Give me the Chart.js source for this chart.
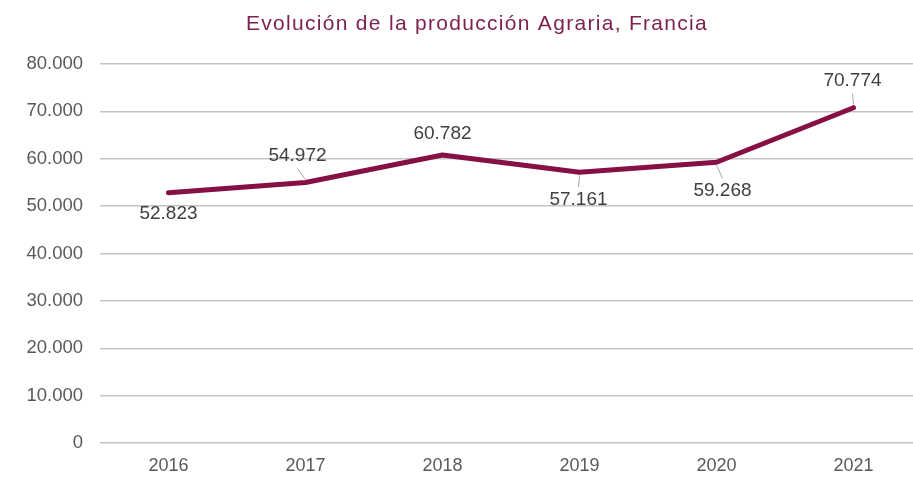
<!DOCTYPE html>
<html>
<head>
<meta charset="utf-8">
<script src="https://cdn.jsdelivr.net/npm/chart.js@4"></script>
<style>
  html, body { margin: 0; padding: 0; background: #ffffff; overflow: hidden; }
  #wrap { width: 922px; height: 480px; position: relative; }
</style>
</head>
<body>
<div id="wrap"><canvas id="c"></canvas></div>
<script>
const TITLE = 'Evolución de la producción Agraria, Francia';
const years = ['2016', '2017', '2018', '2019', '2020', '2021'];
const production = [52823, 54972, 60782, 57161, 59268, 70774];
const yTicks = [0, 10000, 20000, 30000, 40000, 50000, 60000, 70000, 80000];

function fmt(v) {
  return String(Math.round(v)).replace(/\B(?=(\d{3})+(?!\d))/g, '.');
}

// label placement (style): offset of each data label's centre from its point
const labelOffsets = [[0, 21], [-8, -27], [0, -21], [-1, 28], [6, 29], [-1, -27]];

const titlePlugin = {
  id: 'customTitle',
  afterDraw(chart) {
    const ctx = chart.ctx;
    ctx.save();
    ctx.font = '21px "Liberation Sans", Arial, sans-serif';
    try { ctx.letterSpacing = '1.3px'; } catch (e) {}
    ctx.fillStyle = '#7d2251';
    ctx.textAlign = 'center';
    ctx.textBaseline = 'alphabetic';
    ctx.fillText(TITLE, 477, 30);
    ctx.restore();
  }
};

const labelPlugin = {
  id: 'dataLabels',
  afterDatasetsDraw(chart) {
    const ctx = chart.ctx;
    const meta = chart.getDatasetMeta(0);
    ctx.save();
    ctx.font = '19px "Liberation Sans", Arial, sans-serif';
    ctx.fillStyle = '#404040';
    ctx.textAlign = 'center';
    ctx.textBaseline = 'middle';
    meta.data.forEach((pt, i) => {
      const off = labelOffsets[i];
      const lx = pt.x + off[0];
      const ly = pt.y + off[1];
      if (Math.abs(off[1]) > 24) {
        const dir = off[1] < 0 ? -1 : 1; // -1: label above point
        ctx.beginPath();
        ctx.strokeStyle = '#a6a6a6';
        ctx.lineWidth = 1;
        ctx.moveTo(lx, ly - dir * 13);
        ctx.lineTo(pt.x, pt.y + dir * 3);
        ctx.stroke();
      }
      ctx.fillText(fmt(production[i]), lx, ly);
    });
    ctx.restore();
  }
};

new Chart(document.getElementById('c'), {
  type: 'line',
  data: {
    labels: years,
    datasets: [{
      data: production,
      borderColor: '#861043',
      backgroundColor: '#861043',
      borderWidth: 5,
      borderCapStyle: 'round',
      borderJoinStyle: 'round',
      pointRadius: 0,
      tension: 0,
      fill: false
    }]
  },
  options: {
    responsive: true,
    maintainAspectRatio: false,
    animation: false,
    layout: { padding: { top: 64, bottom: 0, left: 0, right: 0 } },
    plugins: {
      legend: { display: false },
      title: { display: false },
      tooltip: { enabled: false }
    },
    scales: {
      x: {
        offset: true,
        grid: { display: false, drawTicks: false },
        border: { display: false },
        ticks: {
          color: '#595959',
          font: { family: '"Liberation Sans", Arial, sans-serif', size: 18 },
          padding: 12,
          maxRotation: 0
        },
        afterFit(scale) { scale.height = 37; }
      },
      y: {
        min: 0,
        max: 80000,
        afterBuildTicks(scale) { scale.ticks = yTicks.map(v => ({ value: v })); },
        grid: { color: '#c4c4c4', lineWidth: 1.5, drawTicks: false },
        border: { display: false },
        ticks: {
          color: '#595959',
          font: { family: '"Liberation Sans", Arial, sans-serif', size: 18.5 },
          padding: 17,
          callback: (v) => fmt(v)
        },
        afterFit(scale) { scale.width = 100; }
      }
    }
  },
  plugins: [titlePlugin, labelPlugin]
});
</script>
</body>
</html>
